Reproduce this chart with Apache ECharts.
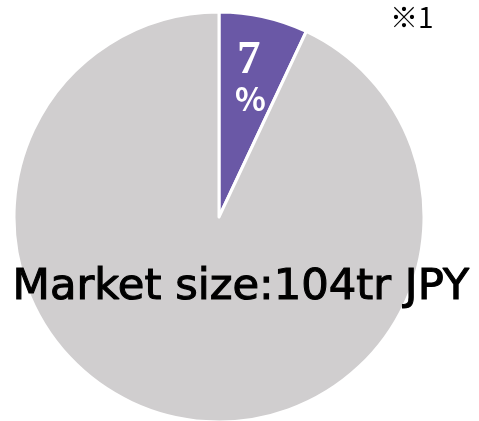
<!DOCTYPE html>
<html>
<head>
<meta charset="utf-8">
<script src="https://cdn.jsdelivr.net/npm/echarts@6/dist/echarts.min.js"></script>
<style>
  html, body { margin: 0; padding: 0; background: #fff; }
  #chart { width: 479px; height: 421px; }
</style>
</head>
<body>
<div id="chart"></div>
<script>
const categories = ["share", "other"];
const values = [7, 93];
const colors = ["#6a58a6", "#d0cecf"];
const title = "Market size:104tr JPY";
const note = "※1";

const chart = echarts.init(document.getElementById("chart"));

const option = {
  animation: false,
  series: [
    {
      type: "pie",
      center: [219, 217],
      radius: 205,
      startAngle: 90,
      clockwise: true,
      label: { show: false },
      labelLine: { show: false },
      itemStyle: { borderColor: "#fff", borderWidth: 3 },
      data: categories.map((name, i) => ({
        name: name,
        value: values[i],
        itemStyle: { color: colors[i] }
      }))
    }
  ],
  graphic: [
    {
      type: "text",
      left: 237,
      top: 37,
      z: 100,
      style: {
        text: values[0] + "",
        fill: "#fff",
        font: "bold 47px 'Liberation Serif'"
      }
    },
    {
      type: "text",
      left: 235,
      top: 83,
      z: 100,
      style: {
        text: "%",
        fill: "#fff",
        font: "bold 32px 'Noto Sans CJK JP'"
      }
    },
    {
      type: "text",
      left: 12,
      top: 266,
      z: 100,
      style: {
        text: title,
        fill: "#000",
        stroke: "#000",
        lineWidth: 1.1,
        font: "43.3px 'DejaVu Sans'"
      }
    },
    {
      type: "text",
      left: 390,
      top: 3,
      z: 100,
      style: {
        text: note,
        fill: "#000",
        font: "28px 'Noto Sans CJK JP'"
      }
    }
  ]
};

chart.setOption(option);
</script>
</body>
</html>
